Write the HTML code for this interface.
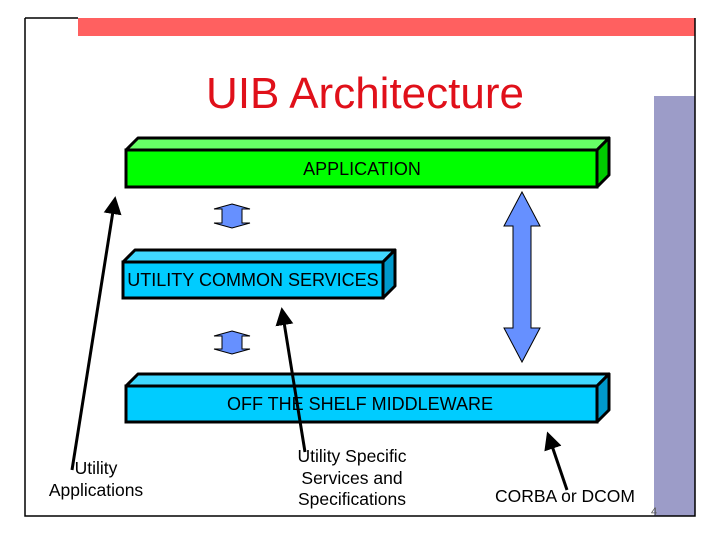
<!DOCTYPE html>
<html><head><style>
body{margin:0;background:#fff;}
svg text{font-family:"Liberation Sans",sans-serif;}
</style></head><body>
<svg width="720" height="540" xmlns="http://www.w3.org/2000/svg">
<rect x="0" y="0" width="720" height="540" fill="#fff"/>
<rect x="78" y="18" width="617" height="18" fill="#ff6060"/>
<rect x="654" y="96" width="41" height="420" fill="#9c9cc8"/>
<polyline points="25,18 25,516 695,516 695,18" fill="none" stroke="#000" stroke-width="1.5"/>
<line x1="25" y1="18" x2="78" y2="18" stroke="#000" stroke-width="1.5"/>
<text x="365" y="108" font-size="44" fill="#e0101a" text-anchor="middle">UIB Architecture</text>
<defs><marker id="ah" markerWidth="6" markerHeight="6" refX="3" refY="3" orient="auto" markerUnits="strokeWidth"><path d="M0,0 L6,3 L0,6 z" fill="#000"/></marker></defs>
<polygon points="126,150 138,138 609,138 597,150" fill="#66ff66" stroke="#000" stroke-width="3" stroke-linejoin="round"/>
<polygon points="597,150 609,138 609,175 597,187" fill="#00cc00" stroke="#000" stroke-width="3" stroke-linejoin="round"/>
<rect x="126" y="150" width="471" height="37" fill="#00ff00" stroke="#000" stroke-width="3"/>
<text x="362" y="175" font-size="18" text-anchor="middle">APPLICATION</text>
<polygon points="123,262 135,250 395,250 383,262" fill="#40d8ff" stroke="#000" stroke-width="3" stroke-linejoin="round"/>
<polygon points="383,262 395,250 395,286 383,298" fill="#0099cc" stroke="#000" stroke-width="3" stroke-linejoin="round"/>
<rect x="123" y="262" width="260" height="36" fill="#00ccff" stroke="#000" stroke-width="3"/>
<text x="253" y="286" font-size="18" text-anchor="middle">UTILITY COMMON SERVICES</text>
<polygon points="126,386 138,374 609,374 597,386" fill="#40d8ff" stroke="#000" stroke-width="3" stroke-linejoin="round"/>
<polygon points="597,386 609,374 609,410 597,422" fill="#0099cc" stroke="#000" stroke-width="3" stroke-linejoin="round"/>
<rect x="126" y="386" width="471" height="36" fill="#00ccff" stroke="#000" stroke-width="3"/>
<text x="360" y="410" font-size="18" text-anchor="middle">OFF THE SHELF MIDDLEWARE</text>
<polygon points="522,192 540,226 531,226 531,328 540,328 522,362 504,328 513,328 513,226 504,226" fill="#6690ff" stroke="#000" stroke-width="1"/>
<polygon points="232,204 250,209 242,209 242,223 250,223 232,228 214,223 222,223 222,209 214,209" fill="#6690ff" stroke="#000" stroke-width="1"/>
<polygon points="232,331 250,336 242,336 242,349 250,349 232,354 214,349 222,349 222,336 214,336" fill="#6690ff" stroke="#000" stroke-width="1"/>
<line x1="72" y1="470" x2="114" y2="205" stroke="#000" stroke-width="3" marker-end="url(#ah)"/>
<line x1="305" y1="452" x2="283" y2="316" stroke="#000" stroke-width="3" marker-end="url(#ah)"/>
<line x1="567" y1="490" x2="550" y2="440" stroke="#000" stroke-width="3" marker-end="url(#ah)"/>
<text font-size="17.5" text-anchor="middle"><tspan x="96" y="474">Utility</tspan><tspan x="96" y="496">Applications</tspan></text>
<text font-size="17.5" text-anchor="middle"><tspan x="352" y="462">Utility Specific</tspan><tspan x="352" y="484">Services and</tspan><tspan x="352" y="505">Specifications</tspan></text>
<text x="565" y="502" font-size="17.5" text-anchor="middle">CORBA or DCOM</text>
<text x="654" y="515" font-size="11" fill="#555" text-anchor="middle">4</text>
</svg>
</body></html>
